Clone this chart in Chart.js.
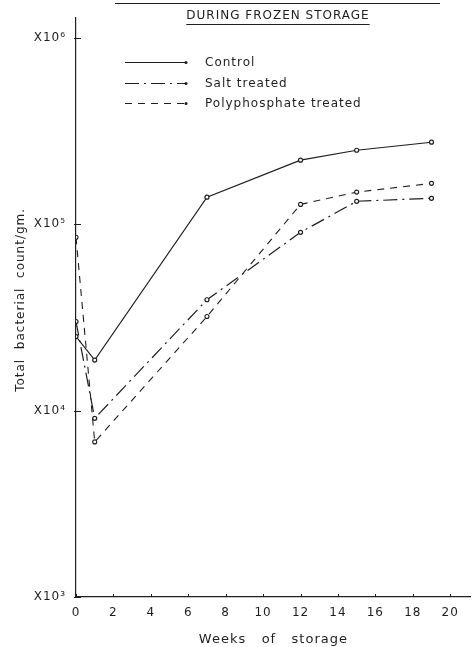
<!DOCTYPE html>
<html>
<head>
<meta charset="utf-8">
<script src="https://cdn.jsdelivr.net/npm/chart.js@4.4.0/dist/chart.umd.min.js"></script>
<style>
  html, body { margin: 0; padding: 0; background: #fff; }
  #wrap { width: 476px; height: 647px; position: relative; }
</style>
</head>
<body>
<div id="wrap"><canvas id="countChart"></canvas></div>
<script>
// ---------- data ----------
const weeks = [0, 1, 7, 12, 15, 19];
const controlCounts = [25000, 18700, 140000, 221000, 250000, 276000];
const saltCounts = [30100, 9100, 39400, 90600, 133000, 138000];
const polyCounts = [85300, 6800, 32000, 128000, 149000, 166000];

const seriesNames = ['Control', 'Salt treated', 'Polyphosphate treated'];
const xTicks = [0, 2, 4, 6, 8, 10, 12, 14, 16, 18, 20];
const yTickValues = [1e3, 1e4, 1e5, 1e6];
const yTickLabels = ['X10³', 'X10⁴', 'X10⁵', 'X10⁶'];

const titleText = 'DURING FROZEN STORAGE';
const xTitle = 'Weeks   of   storage';
const yTitle = '   Total  bacterial  count/gm.';

const ink = '#1e1e1e';
const fontFam = '"DejaVu Sans", sans-serif';

const toPoints = (vals) => vals.map((v, i) => ({ x: weeks[i], y: v }));

// ---------- stencil-ish letter spacing ----------
const spacing = {
  id: 'spacing',
  beforeUpdate(chart) { chart.ctx.letterSpacing = '1px'; },
  beforeLayout(chart) { chart.ctx.letterSpacing = '1px'; },
  beforeDraw(chart) { chart.ctx.letterSpacing = '1px'; }
};

// ---------- title, legend and inner tick marks ----------
const decor = {
  id: 'decor',
  afterDraw(chart) {
    const ctx = chart.ctx;
    const xs = chart.scales.x, ys = chart.scales.y;
    ctx.save();
    ctx.letterSpacing = '1px';
    ctx.strokeStyle = ink;
    ctx.fillStyle = ink;
    ctx.lineWidth = 1;

    // inner ticks on y axis
    yTickValues.forEach(v => {
      const py = Math.round(ys.getPixelForValue(v)) + 0.5;
      ctx.beginPath();
      ctx.moveTo(xs.left - 2, py);
      ctx.lineTo(xs.left + 5, py);
      ctx.stroke();
    });
    // small upward ticks on x axis
    xTicks.forEach(v => {
      const px = Math.round(xs.getPixelForValue(v)) + 0.5;
      ctx.beginPath();
      ctx.moveTo(px, ys.bottom);
      ctx.lineTo(px, ys.bottom - 3);
      ctx.stroke();
    });

    // cut-off heading underline at the very top
    ctx.beginPath();
    ctx.moveTo(115, 3.5);
    ctx.lineTo(440, 3.5);
    ctx.stroke();

    // title with underline
    ctx.font = '12px ' + fontFam;
    ctx.textAlign = 'center';
    ctx.textBaseline = 'middle';
    ctx.fillText(titleText, 278, 16);
    const w = ctx.measureText(titleText).width;
    ctx.beginPath();
    ctx.moveTo(278 - w / 2, 24.5);
    ctx.lineTo(278 + w / 2, 24.5);
    ctx.stroke();

    // legend
    const rows = [62, 83, 103];
    ctx.textAlign = 'left';
    chart.data.datasets.forEach((ds, i) => {
      const y = rows[i] + 0.5;
      ctx.save();
      ctx.setLineDash(ds.borderDash || []);
      ctx.lineWidth = ds.borderWidth;
      ctx.beginPath();
      ctx.moveTo(125, y);
      ctx.lineTo(185, y);
      ctx.stroke();
      ctx.restore();
      ctx.beginPath();
      ctx.arc(186, y, 1.5, 0, Math.PI * 2);
      ctx.fill();
      ctx.fillText(ds.label, 205, y);
    });
    ctx.restore();
  }
};

const ctx = document.getElementById('countChart').getContext('2d');
new Chart(ctx, {
  type: 'line',
  data: {
    datasets: [
      {
        label: seriesNames[0],
        data: toPoints(controlCounts),
        borderColor: ink,
        borderWidth: 1.2
      },
      {
        label: seriesNames[1],
        data: toPoints(saltCounts),
        borderColor: ink,
        borderWidth: 1.2,
        borderDash: [14, 5, 2, 5]
      },
      {
        label: seriesNames[2],
        data: toPoints(polyCounts),
        borderColor: ink,
        borderWidth: 1.1,
        borderDash: [7, 6]
      }
    ]
  },
  options: {
    responsive: true,
    maintainAspectRatio: false,
    animation: false,
    layout: { padding: { top: 13, right: 0, bottom: 0, left: 0 } },
    elements: {
      line: { tension: 0 },
      point: { radius: 2, borderWidth: 1, borderColor: ink, backgroundColor: '#fff' }
    },
    plugins: {
      legend: { display: false },
      tooltip: { enabled: false }
    },
    scales: {
      x: {
        type: 'linear',
        min: 0,
        max: 21.1,
        afterBuildTicks: (s) => { s.ticks = xTicks.map(v => ({ value: v })); },
        afterFit: (s) => { s.height = 50; },
        grid: { display: true, drawOnChartArea: false, drawTicks: false },
        border: { color: ink, width: 1.2 },
        ticks: { color: ink, padding: 9, maxRotation: 0, font: { family: fontFam, size: 12 } },
        title: {
          display: true,
          text: xTitle,
          color: ink,
          padding: { top: 0, bottom: 0 },
          font: { family: fontFam, size: 13 }
        }
      },
      y: {
        type: 'logarithmic',
        min: 1000,
        max: 1294000,
        afterBuildTicks: (s) => { s.ticks = yTickValues.map(v => ({ value: v })); },
        afterFit: (s) => { s.width = 76; },
        grid: { display: true, drawOnChartArea: false, drawTicks: false },
        border: { color: ink, width: 1.2 },
        ticks: {
          color: ink,
          padding: 10,
          font: { family: fontFam, size: 12 },
          callback: (v) => yTickLabels[yTickValues.indexOf(v)]
        },
        title: {
          display: true,
          text: yTitle,
          color: ink,
          padding: { top: 14, bottom: 0 },
          font: { family: fontFam, size: 12 }
        }
      }
    }
  },
  plugins: [spacing, decor]
});
</script>
</body>
</html>
